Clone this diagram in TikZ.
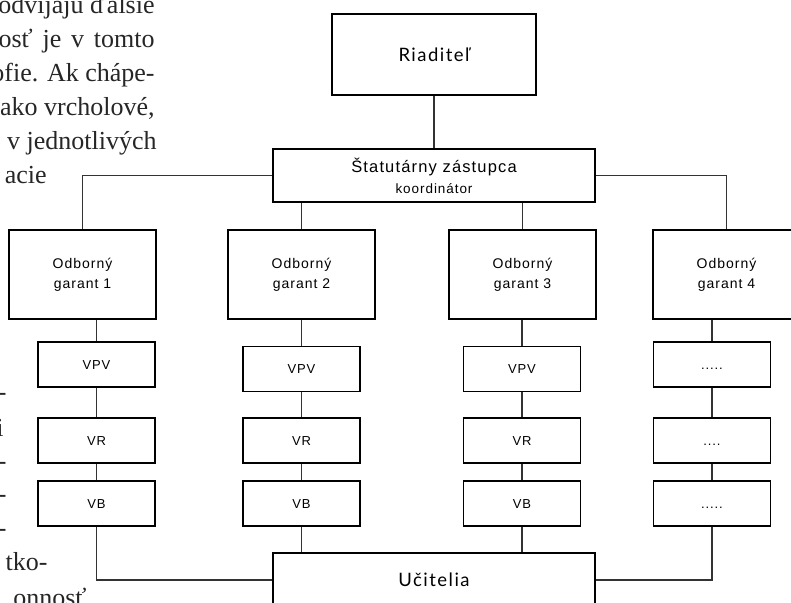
\documentclass[tikz,border=0pt]{standalone}
\usepackage{fontspec}
\setmainfont{Liberation Serif}
\newfontfamily\boxfont[LetterSpace=7]{Liberation Sans}
\newfontfamily\headfont[LetterSpace=8]{Lato}
\newcommand{\subsize}{\fontsize{6.75}{10.5}\selectfont}
\newcommand{\pagetext}{\fontsize{13}{15}\selectfont}

\begin{document}
\begin{tikzpicture}[x=0.5pt, y=-0.5pt,
        box/.style={draw, line width=0.6pt, inner sep=0pt, align=center},
        headbox/.style={box, minimum width=161pt, font=\headfont\fontsize{9.25}{11}\selectfont},
        zastbox/.style={box, minimum width=161pt, minimum height=26.5pt, font=\boxfont\fontsize{8.25}{10.5}\selectfont},
        garant/.style={box, minimum width=73.5pt, minimum height=44.5pt, font=\boxfont\fontsize{7}{10}\selectfont},
        small/.style={box, minimum width=58.5pt, minimum height=22.5pt, text height=4.7pt, text depth=0pt, font=\boxfont\fontsize{6.5}{8}\selectfont},
        link/.style={draw=black!80, line width=0.6pt},
        side/.style={anchor=base east, inner sep=0pt, text=black!85, font=\pagetext}]
        \useasboundingbox (0, 0) rectangle (791, 602);
        \clip (0, 0) rectangle (791, 602);
        % Page text
        \node [side] (t1) at (155, 13) {odvíjajú ďalšie};
        \node [side] (t2) at (155, 47) {\makebox[78pt][s]{osť je v tomto}};
        \node [side] (t3) at (155, 81) {ofie. Ak chápe-};
        \node [side] (t4) at (155, 115) {ako vrcholové,};
        \node [side] (t5) at (157, 149) {’ v jednotlivých};
        \node [side] (t6) at (47, 183) {acie};
        \node [side] (t7) at (7, 400) {-};
        \node [side] (t8) at (4, 436) {i};
        \node [side] (t9) at (7, 469) {-};
        \node [side] (t10) at (7, 502) {-};
        \node [side] (t11) at (7, 536) {-};
        \node [side] (t12) at (48, 570) {tko-};
        \node [side] (t13) at (87, 606) {onnosť};
        % Top
        \node [headbox, minimum width=102pt, minimum height=40.5pt] (dir) at (434, 54.5) {Riaditeľ};
        \node [zastbox] (zast) at (434, 175.5) {Štatutárny zástupca\\{\subsize koordinátor}};
        % Garants
        \node [garant] (g1) at (82.5, 274.5) {Odborný\\garant 1};
        \node [garant] (g2) at (301.5, 274.5) {Odborný\\garant 2};
        \node [garant] (g3) at (522.5, 274.5) {Odborný\\garant 3};
        \node [garant] (g4) at (726.5, 274.5) {Odborný\\garant 4};
        % Columns
        \foreach \i/\x/\y in {1/96.5/364.5, 2/301.5/369, 3/522/369} {
            \node [small] (vpv\i) at (\x, \y) {VPV};
            \node [small] (vr\i) at (\x, 440.5) {VR};
            \node [small] (vb\i) at (\x, 503.5) {VB};
        }
        \node [small] (vpv4) at (712, 364.5) {.....};
        \node [small] (vr4) at (712, 440.5) {....};
        \node [small] (vb4) at (712, 503.5) {.....};
        % Bottom
        \node [headbox, minimum height=27pt] (uc) at (434, 580) {Učitelia};
        % Links
        \draw [link] (dir) -- (zast);
        \draw [link] (zast.west) -| (g1.north);
        \draw [link] (zast.east) -| (g4.north);
        \draw [link] (zast.south -| g2.north) -- (g2.north);
        \draw [link] (zast.south -| g3.north) -- (g3.north);
        \foreach \i in {1, ..., 4} {
            \draw [link] (g\i.south -| vpv\i.north) -- (vpv\i);
            \draw [link] (vpv\i) -- (vr\i);
            \draw [link] (vr\i) -- (vb\i);
        }
        \draw [link] (vb1.south) |- (uc.west);
        \draw [link] (vb4.south) |- (uc.east);
        \draw [link] (vb2.south) -- (vb2.south |- uc.north);
        \draw [link] (vb3.south) -- (vb3.south |- uc.north);
    \end{tikzpicture}
\end{document}
